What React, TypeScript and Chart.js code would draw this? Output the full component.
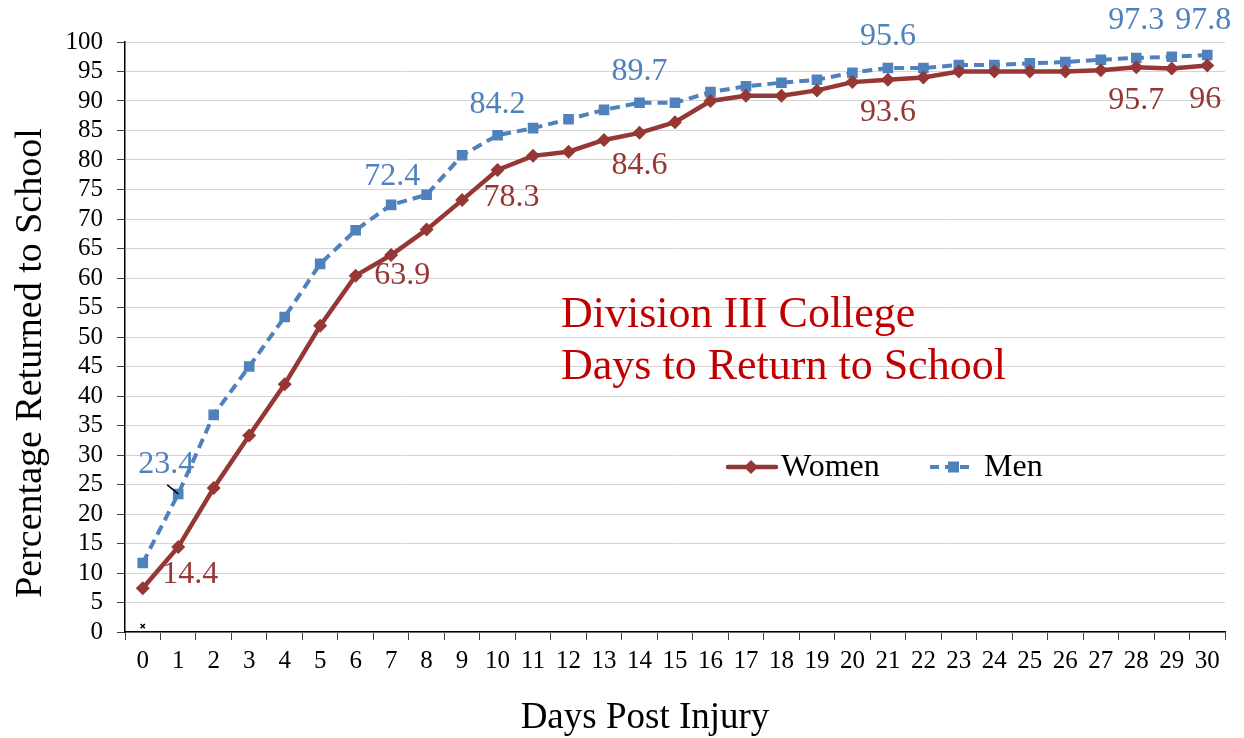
import React, { useEffect, useRef } from "react";
import { Chart, registerables } from "chart.js";

Chart.register(...registerables);

const FONT = '"Liberation Serif", "Times New Roman", serif';

const days = [
  "0", "1", "2", "3", "4", "5", "6", "7", "8", "9", "10", "11", "12", "13", "14", "15",
  "16", "17", "18", "19", "20", "21", "22", "23", "24", "25", "26", "27", "28", "29", "30",
];

const women = [
  7.4, 14.4, 24.4, 33.3, 42.0, 51.9, 60.4, 63.9, 68.2, 73.2, 78.3, 80.7, 81.4, 83.4, 84.6, 86.4,
  90.0, 90.9, 90.9, 91.8, 93.2, 93.6, 94.0, 95.0, 95.0, 95.0, 95.0, 95.2, 95.7, 95.5, 96,
];

const men = [
  11.7, 23.4, 36.8, 45.0, 53.4, 62.4, 68.1, 72.4, 74.1, 80.8, 84.2, 85.4, 86.9, 88.5, 89.7, 89.7,
  91.5, 92.5, 93.1, 93.6, 94.8, 95.6, 95.6, 96.1, 96.1, 96.4, 96.6, 97.0, 97.3, 97.5, 97.8,
];

const stray = [1.0];

const womenLabelIdx = [1, 7, 10, 14, 21, 28, 30];
const menLabelIdx = [1, 7, 10, 14, 21, 28, 30];

const titleLines = ["Division III College", "Days to Return to School"];
const xTitle = "Days Post Injury";
const yTitle = "Percentage Returned to School";

const WOMEN_COLOR = "#953735";
const MEN_COLOR = "#4F81BD";
const WOMEN_LABEL = "#953735";
const MEN_LABEL = "#4F81BD";

// label offsets (px) relative to point
const womenOffsets = [
  [12, 28], [11, 21], [14, 28], [0, 33], [0, 33], [0, 33], [-2, 34],
];
const menOffsets = [
  [-12, -29], [1, -28], [0, -31], [0, -31], [0, -31], [0, -37], [-4, -34],
];

const annotationPlugin = {
  id: "annotations",
  afterDatasetsDraw(chart: any) {
    const ctx = chart.ctx;
    ctx.save();
    ctx.font = `32px ${FONT}`;
    ctx.textAlign = "center";
    ctx.textBaseline = "middle";
    const wMeta = chart.getDatasetMeta(0);
    const mMeta = chart.getDatasetMeta(1);
    womenLabelIdx.forEach((i, k) => {
      const el = wMeta.data[i];
      ctx.fillStyle = WOMEN_LABEL;
      ctx.fillText(String(women[i]), el.x + womenOffsets[k][0], el.y + womenOffsets[k][1]);
    });
    menLabelIdx.forEach((i, k) => {
      const el = mMeta.data[i];
      ctx.fillStyle = MEN_LABEL;
      ctx.fillText(String(men[i]), el.x + menOffsets[k][0], el.y + menOffsets[k][1]);
    });
    // leader line for 23.4
    const lp = mMeta.data[1];
    ctx.strokeStyle = "#000";
    ctx.lineWidth = 1.5;
    ctx.beginPath();
    ctx.moveTo(lp.x - 11, lp.y - 9);
    ctx.lineTo(lp.x, lp.y);
    ctx.stroke();

    // title
    const ca = chart.chartArea;
    ctx.font = `44px ${FONT}`;
    ctx.textAlign = "left";
    ctx.textBaseline = "alphabetic";
    ctx.fillStyle = "#C00000";
    ctx.fillText(titleLines[0], ca.left + 436, 327);
    ctx.fillText(titleLines[1], ca.left + 436, 379);

    // axis titles
    ctx.fillStyle = "#000";
    ctx.font = `37px ${FONT}`;
    ctx.textAlign = "center";
    ctx.textBaseline = "alphabetic";
    ctx.fillText(xTitle, ca.left + 520, 728);
    ctx.save();
    ctx.translate(41, 363);
    ctx.rotate(-Math.PI / 2);
    ctx.font = `38px ${FONT}`;
    ctx.fillText(yTitle, 0, 0);
    ctx.restore();

    // legend
    const ly = 467;
    ctx.font = `32px ${FONT}`;
    ctx.textAlign = "left";
    ctx.textBaseline = "middle";
    // women
    ctx.strokeStyle = WOMEN_COLOR;
    ctx.lineWidth = 4.5;
    ctx.setLineDash([]);
    ctx.lineCap = "round";
    ctx.beginPath();
    ctx.moveTo(728, ly);
    ctx.lineTo(776, ly);
    ctx.stroke();
    ctx.fillStyle = WOMEN_COLOR;
    ctx.beginPath();
    ctx.moveTo(751, ly - 7);
    ctx.lineTo(758, ly);
    ctx.lineTo(751, ly + 7);
    ctx.lineTo(744, ly);
    ctx.closePath();
    ctx.fill();
    ctx.fillStyle = "#000";
    ctx.fillText("Women", 781, ly + 1);
    // men
    ctx.strokeStyle = MEN_COLOR;
    ctx.lineWidth = 4;
    ctx.lineCap = "butt";
    ctx.setLineDash([9, 6]);
    ctx.beginPath();
    ctx.moveTo(930, ly);
    ctx.lineTo(975, ly);
    ctx.stroke();
    ctx.setLineDash([]);
    ctx.fillStyle = MEN_COLOR;
    ctx.fillRect(948, ly - 5.5, 11, 11);
    ctx.fillStyle = "#000";
    ctx.fillText("Men", 984, ly + 1);
    ctx.restore();
  },
};

export default function App() {
  const ref = useRef<HTMLCanvasElement | null>(null);

  useEffect(() => {
    if (!ref.current) return;
    const chart = new Chart(ref.current, {
      type: "line",
      data: {
        labels: days,
        datasets: [
          {
            label: "Women",
            data: women,
            borderColor: WOMEN_COLOR,
            backgroundColor: WOMEN_COLOR,
            borderWidth: 4.5,
            pointStyle: "rectRot",
            pointRadius: 7,
            pointBorderWidth: 0,
            pointBackgroundColor: WOMEN_COLOR,
            tension: 0,
          },
          {
            label: "Men",
            data: men,
            borderColor: MEN_COLOR,
            backgroundColor: MEN_COLOR,
            borderWidth: 4,
            borderDash: [10, 6],
            pointStyle: "rect",
            pointRadius: 7.5,
            pointBorderWidth: 0,
            pointBackgroundColor: MEN_COLOR,
            tension: 0,
          },
          {
            label: "stray",
            data: stray,
            showLine: false,
            pointStyle: "crossRot",
            pointRadius: 3,
            pointBorderWidth: 1.5,
            borderColor: "#000",
            backgroundColor: "#000",
          },
        ],
      },
      options: {
        responsive: false,
        animation: false,
        layout: { padding: { left: 0, right: 19, top: 42, bottom: 0 } },
        plugins: {
          legend: { display: false },
          tooltip: { enabled: false },
        },
        scales: {
          x: {
            type: "category",
            offset: true,
            grid: {
              offset: true,
              drawOnChartArea: false,
              drawTicks: true,
              tickLength: 8,
              tickColor: "#404040",
              tickWidth: 1,
            },
            border: { display: true, color: "#000", width: 1.5 },
            ticks: {
              color: "#000",
              font: { family: FONT, size: 25 },
              padding: 6,
              maxRotation: 0,
              autoSkip: false,
            },
            afterFit: (s: any) => {
              s.height = 106;
            },
          },
          y: {
            min: 0,
            max: 100,
            grid: {
              color: "#d4d4d4",
              lineWidth: 1,
              tickLength: 8,
              tickColor: "#404040",
            },
            border: { display: true, color: "#000", width: 1.5 },
            ticks: {
              stepSize: 5,
              autoSkip: false,
              color: "#000",
              font: { family: FONT, size: 25 },
              padding: 14,
            },
            afterFit: (s: any) => {
              s.width = 125;
            },
          },
        },
      },
      plugins: [annotationPlugin],
    });
    return () => chart.destroy();
  }, []);

  return (
    <div style={{ position: "absolute", left: 0, top: 0, width: 1244, height: 738, background: "#fff" }}>
      <canvas ref={ref} width={1244} height={738} style={{ display: "block" }} />
    </div>
  );
}
